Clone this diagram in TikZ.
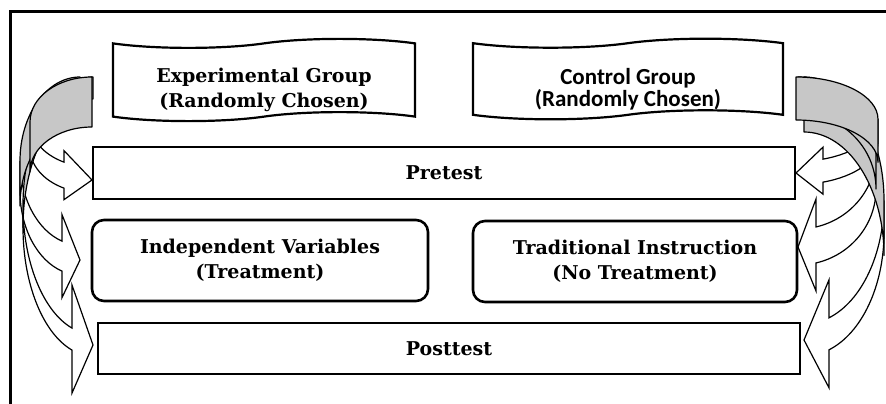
\documentclass[tikz,border=0pt]{standalone}
\usepackage{fontspec}
\setmainfont{DejaVu Serif}
\newfontfamily\calfont{Carlito}
\usetikzlibrary{shapes.symbols}

\tikzset{
  box/.style={draw, fill=white, line width=2.6pt, inner sep=0pt, align=center,
    font=\bfseries\fontsize{19}{25}\selectfont},
  roundbox/.style={box, rounded corners=12pt},
  groupbox/.style={box, tape, line width=2.2pt, tape bend height=9pt},
  backband/.style={draw, line width=1.2pt, fill=black!22, line join=round},
  frontband/.style={draw, line width=1.2pt, fill=white},
}

% curved block arrow: tip x, top, bottom, width, band, head width, head length
\newcommand{\casetup}[7]{%
  \pgfmathsetmacro{\caHR}{(#3-#2)/2-(#5+#6)/4}%
  \pgfmathsetmacro{\caCy}{#2+\caHR}%
  \pgfmathsetmacro{\caAl}{180-acos(#7/#4)}%
  \pgfmathsetmacro{\caYf}{\caCy+\caHR*sin(\caAl)}%
  \pgfmathsetmacro{\caYs}{\caYf+#5}%
  \pgfmathsetmacro{\caDh}{(#6-#5)/2}%
  \pgfmathsetmacro{\caTip}{#3-#6/2}%
}
\newcommand{\curvedfront}[7]{%
  \casetup{#1}{#2}{#3}{#4}{#5}{#6}{#7}%
  \draw[frontband] (#1-#4,\caCy) arc[start angle=180, end angle=\caAl, x radius=#4, y radius=\caHR]
    -- (#1-#7,\caYf-\caDh) -- (#1,\caTip) -- (#1-#7,\caYs+\caDh) -- (#1-#7,\caYs)
    arc[start angle=\caAl, end angle=180, x radius=#4, y radius=\caHR] -- cycle;
}
% back (shaded) part, #8 = its thickness
\newcommand{\curvedback}[8]{%
  \casetup{#1}{#2}{#3}{#4}{#5}{#6}{#7}%
  \draw[backband] (#1,#2) arc[start angle=270, end angle=180, x radius=#4, y radius=\caHR]
    -- ++(0,#8) arc[start angle=180, end angle=270, x radius=#4, y radius=\caHR] -- cycle;
}

\begin{document}
\begin{tikzpicture}[x=1pt, y=-1pt]
  \useasboundingbox (0,0) rectangle (886,404);
  \draw[line width=3pt] (10,404) -- (10,12) -- (886,12);

  % left arrows
  \curvedfront{93}{77}{399}{70}{22}{108}{21}
  \curvedfront{80}{77}{301.5}{60}{30}{83}{18}
  \curvedfront{92}{77}{204.5}{62}{26}{49}{28}
  \curvedback{93}{77}{399}{70}{22}{108}{21}{22}
  \curvedback{80}{77}{301.5}{60}{30}{83}{18}{45}
  \curvedback{92}{77}{204.5}{62}{26}{49}{28}{50}
  % right arrows
  \begin{scope}[shift={(886,0)}, xscale=-1]
    \curvedfront{82}{77}{394}{80}{32}{108}{25}
    \curvedfront{88}{77}{293}{78}{36}{92}{18}
    \curvedfront{90}{77}{196.5}{82}{23}{47}{27}
    \curvedback{82}{77}{394}{80}{32}{108}{25}{55}
    \curvedback{88}{77}{293}{78}{36}{92}{18}{36}
    \curvedback{90}{77}{196.5}{82}{23}{47}{27}{43}
  \end{scope}

  \node[groupbox, minimum width=302pt, minimum height=80pt] (expgroup) at (264,80)
    {\rule{0pt}{35pt}Experimental Group\\(Randomly Chosen)};
  \node[groupbox, minimum width=310pt, minimum height=80pt,
    font=\calfont\bfseries\fontsize{23}{22}\selectfont] (ctlgroup) at (628,79)
    {\rule{0pt}{37pt}Control Group\\(Randomly Chosen)};
  \node[box, minimum width=702pt, minimum height=52pt] (pretest) at (444,173) {Pretest};
  \node[roundbox, minimum width=336pt, minimum height=81pt] (indvar) at (260,260.5)
    {Independent Variables\\(Treatment)};
  \node[roundbox, minimum width=324pt, minimum height=81pt] (tradinst) at (635,261.5)
    {Traditional Instruction\\(No Treatment)};
  \node[box, minimum width=702pt, minimum height=51pt] (posttest) at (449,348.5) {Posttest};
\end{tikzpicture}
\end{document}
